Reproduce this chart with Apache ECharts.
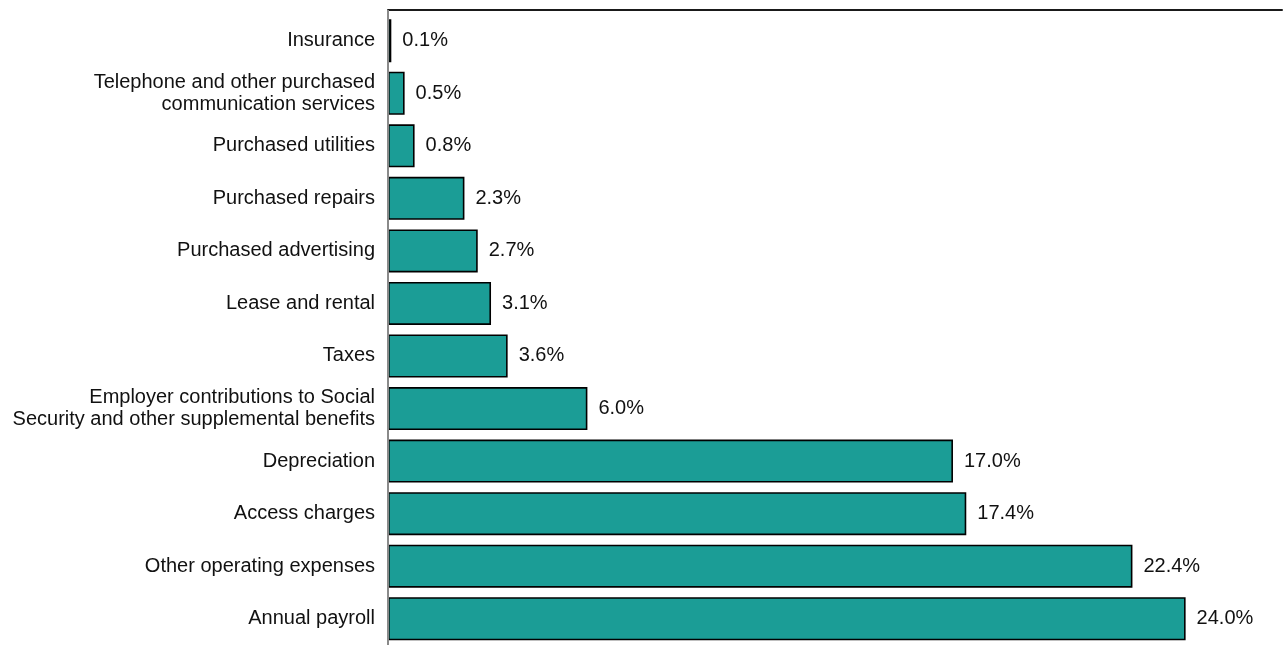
<!DOCTYPE html>
<html>
<head>
<meta charset="utf-8">
<script src="https://cdn.jsdelivr.net/npm/echarts@6/dist/echarts.min.js"></script>
<style>
  html, body { margin: 0; padding: 0; background: #fff; }
  #chart { width: 1285px; height: 645px; }
</style>
</head>
<body>
<div id="chart"></div>
<script>
// Expense categories, listed top to bottom
const categories = [
  'Insurance',
  'Telephone and other purchased\ncommunication services',
  'Purchased utilities',
  'Purchased repairs',
  'Purchased advertising',
  'Lease and rental',
  'Taxes',
  'Employer contributions to Social\nSecurity and other supplemental benefits',
  'Depreciation',
  'Access charges',
  'Other operating expenses',
  'Annual payroll'
];

// Share of total expenses, percent
const shares = [0.1, 0.5, 0.8, 2.3, 2.7, 3.1, 3.6, 6.0, 17.0, 17.4, 22.4, 24.0];

const FONT = "'Liberation Sans', Arial, sans-serif";

const chart = echarts.init(document.getElementById('chart'), null, { renderer: 'canvas' });

chart.setOption({
  animation: false,
  backgroundColor: '#ffffff',
  grid: { left: 388, right: 3, top: 14.4, height: 631.2, containLabel: false },
  xAxis: {
    type: 'value',
    position: 'top',
    offset: 4.4,
    min: 0,
    max: 26.9,
    axisLine: { show: true, lineStyle: { color: '#1a1a1a', width: 2 } },
    axisTick: { show: false },
    axisLabel: { show: false },
    splitLine: { show: false }
  },
  yAxis: {
    type: 'category',
    inverse: true,
    data: categories,
    axisLine: { show: false },
    axisTick: { show: false },
    axisLabel: {
      margin: 13,
      color: '#111111',
      fontFamily: FONT,
      fontSize: 20,
      lineHeight: 22,
      align: 'right'
    }
  },
  series: [{
    type: 'bar',
    data: shares,
    barWidth: 43,
    itemStyle: { color: '#1b9d96', borderColor: '#000000', borderWidth: 1.6 },
    label: {
      show: true,
      position: 'right',
      distance: 11,
      color: '#111111',
      fontFamily: FONT,
      fontSize: 20,
      formatter: p => p.value.toFixed(1) + '%'
    }
  }]
});

// Left axis rule, running from the top border down to the bottom edge
const x0 = chart.convertToPixel({ xAxisIndex: 0 }, 0);
chart.setOption({
  graphic: [{
    type: 'line',
    shape: { x1: x0, y1: 10, x2: x0, y2: 645 },
    style: { stroke: '#8a8a8a', lineWidth: 2 },
    z: 10
  }]
});
</script>
</body>
</html>
